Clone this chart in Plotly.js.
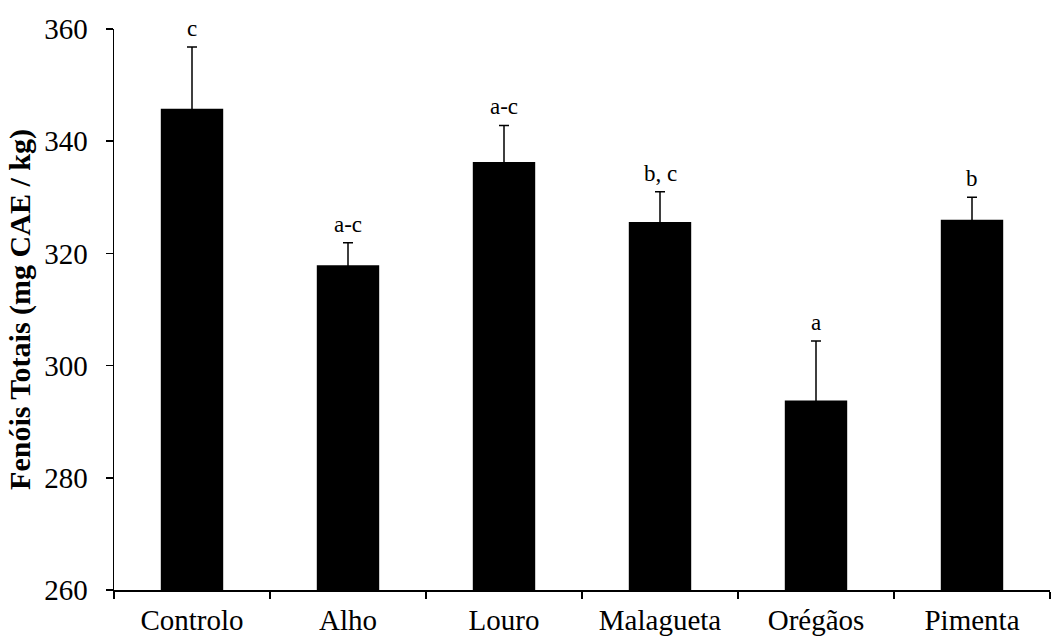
<!DOCTYPE html>
<html>
<head>
<meta charset="utf-8">
<script src="https://cdn.plot.ly/plotly-3.0.1.min.js"></script>
<style>html,body{margin:0;padding:0;background:#fff;}#chart{width:1058px;height:639px;}</style>
</head>
<body>
<div id="chart"></div>
<script>
const categories = ["Controlo", "Alho", "Louro", "Malagueta", "Orégãos", "Pimenta"];
const values = [345.8, 317.9, 336.3, 325.6, 293.8, 326.0];
const errors = [11.0, 4.0, 6.5, 5.4, 10.6, 4.0];
const letters = ["c", "a-c", "a-c", "b, c", "a", "b"];
const yTicks = [260, 280, 300, 320, 340, 360];

const FONT = "Liberation Serif";

const trace = {
  type: "bar",
  x: categories,
  y: values,
  width: 0.4,
  marker: {color: "#000000", line: {width: 0}},
  error_y: {
    type: "data",
    symmetric: true,
    array: errors,
    color: "#000000",
    thickness: 1.5,
    width: 5
  },
  hoverinfo: "none"
};

const annotations = categories.map((c, i) => ({
  x: c,
  y: values[i] + errors[i],
  xref: "x",
  yref: "y",
  text: letters[i],
  showarrow: false,
  yanchor: "bottom",
  yshift: 4,
  font: {family: FONT, size: 23, color: "#000"}
}));

const layout = {
  width: 1058,
  height: 639,
  margin: {l: 114, r: 8, t: 29, b: 49},
  paper_bgcolor: "#fff",
  plot_bgcolor: "#fff",
  showlegend: false,
  font: {family: FONT, color: "#000"},
  xaxis: {
    type: "category",
    tickson: "boundaries",
    ticks: "outside",
    ticklen: 7,
    tickwidth: 1.5,
    tickcolor: "#000",
    showline: true,
    linecolor: "#000",
    linewidth: 1.5,
    showgrid: false,
    zeroline: false,
    tickfont: {family: FONT, size: 29, color: "#000"},
    ticklabelstandoff: 4
  },
  yaxis: {
    range: [260, 360],
    tickvals: yTicks,
    ticktext: yTicks.map(String),
    ticks: "outside",
    ticklen: 7,
    tickwidth: 1.5,
    tickcolor: "#000",
    showline: true,
    linecolor: "#000",
    linewidth: 1.5,
    showgrid: false,
    zeroline: false,
    tickfont: {family: FONT, size: 29, color: "#000"},
    ticklabelstandoff: 12,
    title: {
      text: "<b>Fenóis Totais (mg CAE / kg)</b>",
      font: {family: FONT, size: 30, color: "#000"},
      standoff: 4
    }
  },
  annotations: annotations
};

Plotly.newPlot("chart", [trace], layout, {displayModeBar: false, staticPlot: true});
</script>
</body>
</html>
